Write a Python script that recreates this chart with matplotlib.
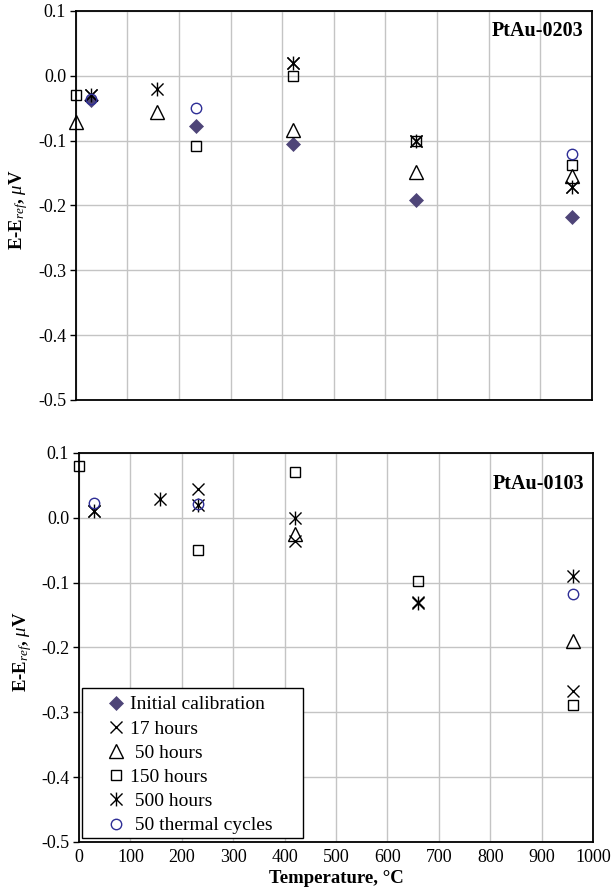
import matplotlib
matplotlib.use('Agg')
import matplotlib.pyplot as plt
from matplotlib.path import Path
from matplotlib.lines import Line2D
from matplotlib.patches import Rectangle

plt.rcParams['font.family'] = 'Liberation Serif'
plt.rcParams['axes.unicode_minus'] = False
plt.rcParams['mathtext.fontset'] = 'custom'
plt.rcParams['mathtext.rm'] = 'Liberation Serif:bold'
plt.rcParams['mathtext.it'] = 'Liberation Serif:italic'
plt.rcParams['mathtext.bf'] = 'Liberation Serif:bold'

# PtAu-0203 (upper panel)
top_init_t = [30, 232, 420, 660, 962]
top_init_v = [-0.038, -0.077, -0.105, -0.192, -0.218]
top_h17_t = [30, 420, 660, 962]
top_h17_v = [-0.030, 0.020, -0.100, -0.172]
top_h50_t = [0, 157, 420, 660, 962]
top_h50_v = [-0.071, -0.056, -0.084, -0.148, -0.154]
top_h150_t = [0, 232, 420, 660, 962]
top_h150_v = [-0.030, -0.109, 0.000, -0.101, -0.137]
top_h500_t = [30, 157, 420, 660, 962]
top_h500_v = [-0.030, -0.020, 0.020, -0.101, -0.172]
top_cyc_t = [30, 232, 962]
top_cyc_v = [-0.035, -0.050, -0.120]

# PtAu-0103 (lower panel)
bot_init_t = []
bot_init_v = []
bot_h17_t = [30, 232, 420, 660, 962]
bot_h17_v = [0.010, 0.045, -0.036, -0.130, -0.267]
bot_h50_t = [420, 962]
bot_h50_v = [-0.025, -0.190]
bot_h150_t = [0, 232, 420, 660, 962]
bot_h150_v = [0.080, -0.049, 0.070, -0.098, -0.288]
bot_h500_t = [30, 157, 232, 420, 660, 962]
bot_h500_v = [0.010, 0.029, 0.020, 0.000, -0.131, -0.090]
bot_cyc_t = [30, 232, 962]
bot_cyc_v = [0.023, 0.022, -0.118]

labels = ['Initial calibration', '17 hours', ' 50 hours', '150 hours',
          ' 500 hours', ' 50 thermal cycles']

# asterisk marker: a cross with a vertical stroke
star = Path([(-1, -1), (1, 1), (-1, 1), (1, -1), (0, -1.15), (0, 1.15)],
            [Path.MOVETO, Path.LINETO] * 3)

styles = [
    dict(marker='D', ms=7.5, mfc='#4e4578', mec='#4e4578', mew=0.5),
    dict(marker='x', ms=9, mfc='none', mec='black', mew=1.0),
    dict(marker='^', ms=9.5, mfc='none', mec='black', mew=1.0),
    dict(marker='s', ms=7.5, mfc='none', mec='black', mew=1.0),
    dict(marker=star, ms=10, mfc='none', mec='black', mew=1.0),
    dict(marker='o', ms=7.5, mfc='none', mec='#2e2e96', mew=1.0),
]

top_data = [(top_init_t, top_init_v), (top_h17_t, top_h17_v),
            (top_h50_t, top_h50_v), (top_h150_t, top_h150_v),
            (top_h500_t, top_h500_v), (top_cyc_t, top_cyc_v)]
bot_data = [(bot_init_t, bot_init_v), (bot_h17_t, bot_h17_v),
            (bot_h50_t, bot_h50_v), (bot_h150_t, bot_h150_v),
            (bot_h500_t, bot_h500_v), (bot_cyc_t, bot_cyc_v)]

fig = plt.figure(figsize=(6.12, 8.94), dpi=100)
ax1 = fig.add_axes([0.124, 0.5526, 0.843, 0.4351])
ax2 = fig.add_axes([0.129, 0.0582, 0.840, 0.4351])

yticks = [0.1, 0.0, -0.1, -0.2, -0.3, -0.4, -0.5]
xticks = list(range(0, 1001, 100))


def setup(ax, name, name_y):
    ax.set_xlim(0, 1000)
    ax.set_ylim(-0.5, 0.1)
    ax.set_xticks(xticks)
    ax.set_yticks(yticks)
    ax.set_yticklabels(['%.1f' % v for v in yticks])
    ax.grid(True, color='#c4c4c4', linewidth=1.0)
    ax.set_axisbelow(True)
    for s in ax.spines.values():
        s.set_linewidth(1.3)
        s.set_color('black')
    ax.tick_params(axis='y', direction='out', length=4, width=1,
                   labelsize=13, pad=3)
    ax.tick_params(axis='x', length=0, labelsize=13, pad=5)
    ax.set_ylabel(r'E-E$_{\mathit{ref}}$, $\mu$V', fontsize=13.5,
                  fontweight='bold')
    ax.yaxis.set_label_coords(-0.088, 0.49)
    ax.text(0.983, name_y, name, transform=ax.transAxes, ha='right',
            va='center', fontsize=14.5, fontweight='bold')


for ax, data in [(ax1, top_data), (ax2, bot_data)]:
    for (t, v), st, lab in zip(data, styles, labels):
        ax.plot(t, v, linestyle='none', clip_on=False, label=lab, **st)

setup(ax1, 'PtAu-0203', 0.949)
setup(ax2, 'PtAu-0103', 0.92)
ax1.set_xticklabels([])
ax2.set_xlabel('Temperature, °C', fontsize=13.5, fontweight='bold',
               labelpad=3)

# legend box drawn by hand so its padding matches
ax2.add_patch(Rectangle((0.006, 0.010), 0.43, 0.386, transform=ax2.transAxes,
                        facecolor='white', edgecolor='black', linewidth=1.0,
                        zorder=4))
handles = [Line2D([], [], linestyle='none', **st) for st in styles]
ax2.legend(handles, labels, loc='upper left',
           bbox_to_anchor=(0.053, 0.376), fontsize=14, frameon=False,
           handlelength=1.0, handletextpad=0.2, borderpad=0,
           labelspacing=0.34, borderaxespad=0)

fig.savefig('out.png', dpi=100)
